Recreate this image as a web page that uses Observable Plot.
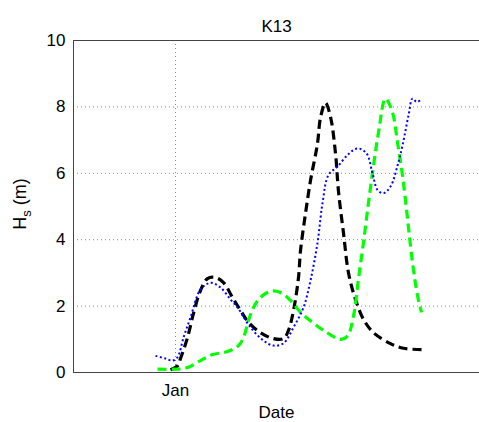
<!DOCTYPE html>
<html>
<head>
<meta charset="utf-8">
<script src="https://cdn.jsdelivr.net/npm/d3@7"></script>
<script src="https://cdn.jsdelivr.net/npm/@observablehq/plot@0.6"></script>
<style>
  html, body { margin: 0; padding: 0; background: #fff; }
  #chart svg { display: block; }
</style>
</head>
<body>
<div id="chart"></div>
<script>
// Significant wave height at station K13, three time series.
// Times are days relative to 1 January (negative = December).
const titleText = "K13";
const xLabel = "Date";
const yTicks = [0, 2, 4, 6, 8, 10];

const blackDay = [-0.5, 0.2, 0.5, 1.2, 1.8, 2.5, 3.2, 4.0, 4.8, 5.7, 6.5, 7.3, 8.5, 9.8, 10.8, 11.3, 11.8, 12.3, 12.5, 13.0, 13.5, 14.2, 14.5, 15.0, 15.5, 16.0, 16.3, 16.8, 17.3, 18.0, 18.8, 19.8, 21.5, 22.8, 24.6];
const blackHs  = [0.08, 0.2, 0.42, 1.05, 1.78, 2.47, 2.83, 2.86, 2.71, 2.26, 1.87, 1.51, 1.2, 1.02, 1.02, 1.27, 1.87, 2.86, 3.67, 4.79, 5.78, 6.9, 7.68, 8.12, 7.7, 6.6, 5.45, 4.2, 3.0, 2.2, 1.6, 1.2, 0.87, 0.73, 0.69];

const greenDay = [-1.8, -0.2, 1.2, 2.5, 3.7, 5.2, 6.3, 6.8, 7.3, 7.8, 8.5, 9.5, 10.5, 11.5, 12.5, 13.2, 14.8, 16.5, 17.2, 17.8, 18.3, 18.8, 19.3, 19.8, 20.3, 21.0, 21.7, 22.2, 22.7, 23.2, 23.7, 24.2, 24.6];
const greenHs  = [0.1, 0.1, 0.15, 0.36, 0.54, 0.63, 0.81, 1.05, 1.57, 1.96, 2.26, 2.45, 2.41, 2.17, 1.81, 1.63, 1.27, 1.0, 1.1, 1.7, 2.83, 3.92, 5.12, 6.23, 7.23, 8.25, 7.83, 6.93, 5.93, 4.64, 3.31, 2.32, 1.81];

const blueDay = [-2.0, -1.0, -0.3, 0.2, 0.8, 1.5, 2.5, 3.5, 4.5, 5.5, 6.2, 7.5, 8.8, 9.8, 10.8, 11.8, 12.8, 13.5, 14.2, 14.7, 15.3, 16.2, 17.2, 18.2, 19.1, 19.7, 20.2, 20.8, 21.5, 22.2, 22.7, 23.3, 23.7, 24.1, 24.5];
const blueHs  = [0.5, 0.42, 0.36, 0.46, 1.05, 1.66, 2.5, 2.7, 2.56, 2.2, 1.96, 1.36, 0.96, 0.81, 0.88, 1.36, 1.96, 2.77, 3.9, 5.1, 5.95, 6.2, 6.55, 6.75, 6.6, 6.0, 5.5, 5.4, 5.6, 6.23, 6.84, 7.74, 8.25, 8.15, 8.2];

// Visible date window, in days relative to 1 January.
const windowDays = [-10.2, 30.4];

const BASE = Date.UTC(2014, 0, 1);
const toDate = (d) => new Date(BASE + d * 864e5);
const series = (days, hs) => days.map((d, i) => ({date: toDate(d), hs: hs[i]}));

const blackData = series(blackDay, blackHs);
const greenData = series(greenDay, greenHs);
const blueData = series(blueDay, blueHs);
const xDomain = windowDays.map(toDate);
const jan = [toDate(0)];

const font = "'Liberation Sans', Arial, Helvetica, sans-serif";
const fs = 17;
const gridStyle = {stroke: "#8a8a8a", strokeOpacity: 1, strokeDasharray: "1,3", strokeWidth: 1};
const axisColor = "#444";

const chart = Plot.plot({
  width: 479,
  height: 422,
  marginLeft: 73,
  marginRight: 0,
  marginTop: 40,
  marginBottom: 50,
  style: {fontFamily: font, fontSize: fs + "px", background: "#fff", color: "#000", overflow: "visible"},
  x: {type: "utc", domain: xDomain},
  y: {domain: [0, 10]},
  marks: [
    Plot.gridY([2, 4, 6, 8], gridStyle),
    Plot.gridX(jan, gridStyle),
    Plot.ruleY([0, 10], {stroke: axisColor, strokeWidth: 1}),
    Plot.ruleX([xDomain[0]], {stroke: axisColor, strokeWidth: 1}),
    Plot.axisY(yTicks, {tickSize: 0, tickPadding: 8, fontSize: fs, label: null}),
    Plot.axisX(jan, {tickSize: 0, tickPadding: 11, fontSize: fs, label: null, tickFormat: d3.utcFormat("%b")}),
    Plot.line(blackData, {x: "date", y: "hs", stroke: "#000", strokeWidth: 3.2, strokeDasharray: "9,5", strokeLinecap: "butt", curve: "catmull-rom"}),
    Plot.line(greenData, {x: "date", y: "hs", stroke: "#00ff00", strokeWidth: 3.2, strokeDasharray: "9,5", strokeLinecap: "butt", curve: "catmull-rom"}),
    Plot.line(blueData, {x: "date", y: "hs", stroke: "#0000ff", strokeWidth: 2, strokeDasharray: "2,2.5", strokeLinecap: "butt", curve: "catmull-rom"}),
    Plot.text([titleText], {text: (d) => d, frameAnchor: "top", dy: -9, lineAnchor: "bottom", fontSize: fs}),
    Plot.text([xLabel], {text: (d) => d, frameAnchor: "bottom", dy: 45, lineAnchor: "bottom", fontSize: fs})
  ]
});

// Y-axis title with subscript: H_s (m)
const svg = d3.select(chart);
const yLabel = svg.append("text")
  .attr("transform", "translate(26,204) rotate(-90)")
  .attr("text-anchor", "middle")
  .attr("font-family", font)
  .attr("font-size", fs + 1)
  .attr("fill", "#000");
yLabel.append("tspan").text("H");
yLabel.append("tspan").attr("font-size", 13).attr("dy", 5).text("s");
yLabel.append("tspan").attr("dy", -5).text(" (m)");

document.getElementById("chart").appendChild(chart);
</script>
</body>
</html>
